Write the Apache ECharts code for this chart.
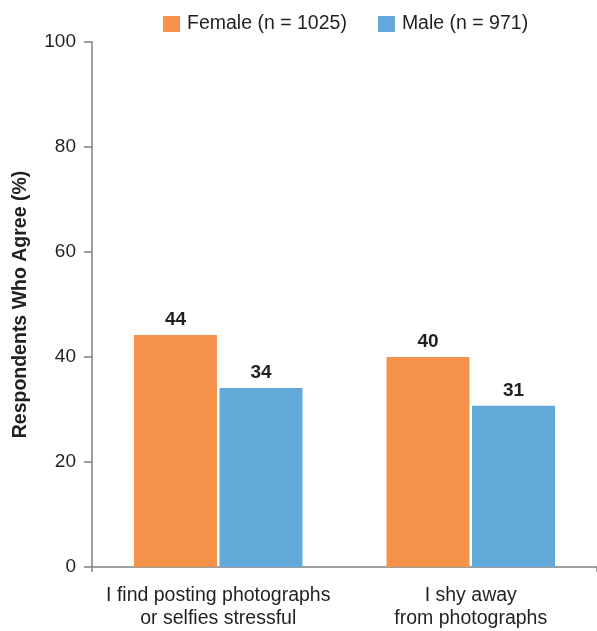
<!DOCTYPE html>
<html>
<head>
<meta charset="utf-8">
<script src="https://cdn.jsdelivr.net/npm/echarts@6/dist/echarts.min.js"></script>
<style>html,body{margin:0;padding:0;background:#fff}#c{width:597px;height:631px}</style>
</head>
<body>
<div id="c"></div>
<script>
const categories = ['I find posting photographs\nor selfies stressful', 'I shy away\nfrom photographs'];
const femaleValues = [44.2, 40.0];
const maleValues = [34.1, 30.7];
const seriesNames = ['Female (n = 1025)', 'Male (n = 971)'];
const yTicks = { min: 0, max: 100, interval: 20 };

const font = 'Liberation Sans, Arial, sans-serif';
const ink = '#231f20';
const axisGray = '#808080';
const chart = echarts.init(document.getElementById('c'));
const labelCfg = {
  show: true, position: 'top', distance: 6,
  fontFamily: font, fontSize: 19, fontWeight: 'bold', color: ink,
  formatter: p => Math.round(p.value)
};
chart.setOption({
  animation: false,
  legend: {
    top: 9, left: 158, itemWidth: 17, itemHeight: 16, itemGap: 31,
    icon: 'rect',
    textStyle: { fontFamily: font, fontSize: 19.5, color: ink, padding: [0,0,0,2] },
    data: seriesNames
  },
  grid: { left: 92, right: 0, top: 42, bottom: 64 },
  xAxis: {
    type: 'category', data: categories,
    axisLine: { lineStyle: { color: axisGray, width: 1.5 } },
    axisTick: { show: true, length: 5, interval: (i) => i === 0, lineStyle: { color: axisGray, width: 1.5 } },
    axisLabel: { interval: 0, fontFamily: font, fontSize: 19.5, color: ink, margin: 17, lineHeight: 23 }
  },
  yAxis: {
    type: 'value', min: yTicks.min, max: yTicks.max, interval: yTicks.interval,
    name: 'Respondents Who Agree (%)', nameLocation: 'middle', nameGap: 61,
    nameTextStyle: { fontFamily: font, fontSize: 19.5, fontWeight: 'bold', color: ink },
    axisLine: { show: true, lineStyle: { color: axisGray, width: 1.5 } },
    axisTick: { show: true, length: 8, lineStyle: { color: axisGray, width: 1.5 } },
    axisLabel: { fontFamily: font, fontSize: 19, color: ink, margin: 16 },
    splitLine: { show: false }
  },
  series: [
    { name: seriesNames[0], type: 'bar', data: femaleValues, itemStyle: { color: '#f5934a' },
      barWidth: 83, barGap: '3%', label: labelCfg },
    { name: seriesNames[1], type: 'bar', data: maleValues, itemStyle: { color: '#62a8d8' },
      barWidth: 83, label: labelCfg }
  ]
});
</script>
</body>
</html>
